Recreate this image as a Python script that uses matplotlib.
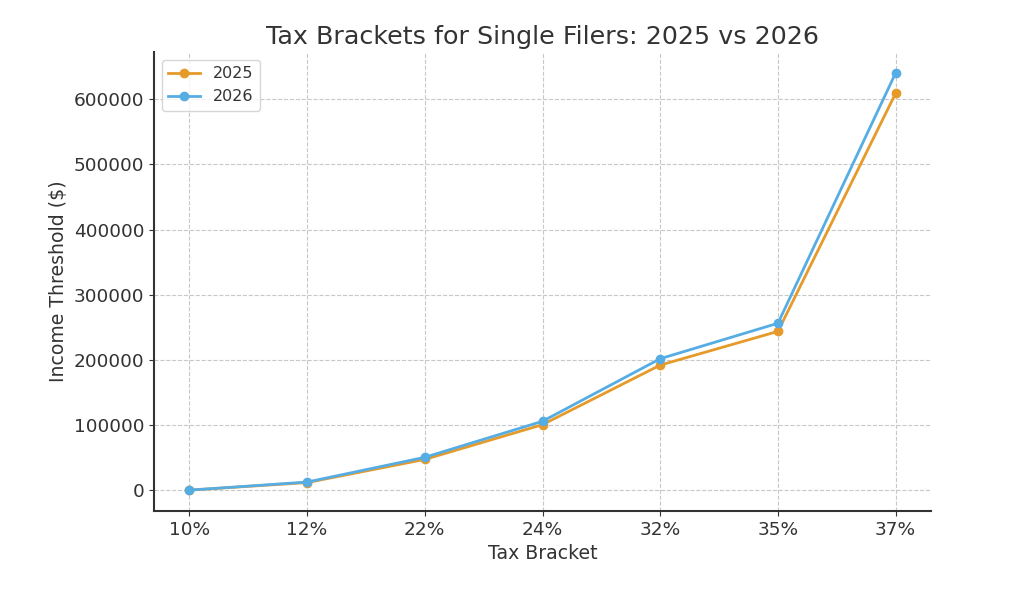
import matplotlib
matplotlib.use("Agg")
import matplotlib.pyplot as plt

brackets = ["10%", "12%", "22%", "24%", "32%", "35%", "37%"]
thresholds_2025 = [0, 11600, 47150, 100525, 191950, 243725, 609350]
thresholds_2026 = [0, 12400, 50400, 105700, 201775, 256225, 640600]

plt.rcParams['font.family'] = ['DejaVu Sans']
text_color = '#333333'

fig = plt.figure(figsize=(10.24, 5.97), dpi=100)
ax = fig.add_axes([154/1024, 1-511/597, (931-154)/1024, (511-52)/597])

ax.plot(brackets, thresholds_2025, marker='o', color='#E69A2A', label='2025', linewidth=2, markersize=6)
ax.plot(brackets, thresholds_2026, marker='o', color='#56ADE4', label='2026', linewidth=2, markersize=6)

ax.set_title("Tax Brackets for Single Filers: 2025 vs 2026", fontsize=18.3, color=text_color, pad=6)
ax.set_xlabel("Tax Bracket", fontsize=13.6, color=text_color)
ax.set_ylabel("Income Threshold ($)", fontsize=13.6, color=text_color)
ax.tick_params(labelsize=13.3, colors=text_color)
ax.ticklabel_format(axis='y', style='plain')
ax.grid(True, linestyle='--', color='#c8c8c8', linewidth=0.8)
ax.set_axisbelow(True)
for s in ['top', 'right']:
    ax.spines[s].set_visible(False)
for s in ['left', 'bottom']:
    ax.spines[s].set_color('#333333')
    ax.spines[s].set_linewidth(1.5)
leg = ax.legend(loc='upper left', fontsize=11.5)
for t in leg.get_texts():
    t.set_color(text_color)

fig.savefig("out.png", dpi=100)
